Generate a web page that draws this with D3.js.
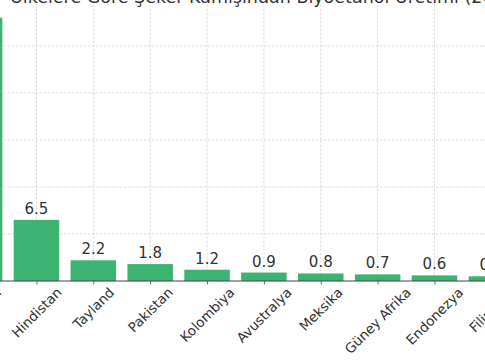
<!DOCTYPE html>
<html>
<head>
<meta charset="utf-8">
<script src="https://cdn.jsdelivr.net/npm/d3@7"></script>
<style>
  html, body { margin: 0; padding: 0; background: #fff; }
  svg { display: block; }
</style>
</head>
<body>
<svg id="chart" width="485" height="360"></svg>
<script>
const categories = ["Brezilya", "Hindistan", "Tayland", "Pakistan", "Kolombiya", "Avustralya", "Meksika", "Güney Afrika", "Endonezya", "Filipinler"];
const values = [28.0, 6.5, 2.2, 1.8, 1.2, 0.9, 0.8, 0.7, 0.6, 0.5];
const yTicks = [5, 10, 15, 20, 25];
const titleText = "Ülkelere Göre Şeker Kamışından Biyoetanol Üretimi (2022)";

const svg = d3.select("#chart");
const W = 485, H = 360;
const baseY = 281, topY = 4.6;
const step = 56.86;
const firstX = -20.4;

const x = d3.scalePoint()
  .domain(categories)
  .range([firstX, firstX + step * (categories.length - 1)]);
const barW = step * 0.8;

const y = d3.scaleLinear().domain([0, 29.4]).range([baseY, topY]);

// grid
const grid = svg.append("g");
grid.selectAll("line.v").data(categories).join("line")
  .attr("x1", d => x(d)).attr("x2", d => x(d))
  .attr("y1", topY).attr("y2", baseY)
  .attr("stroke", "#d4d4d4").attr("stroke-width", 0.8).attr("stroke-dasharray", "2.5,1.5");
grid.selectAll("line.h").data(yTicks).join("line")
  .attr("x1", 0).attr("x2", W)
  .attr("y1", d => y(d)).attr("y2", d => y(d))
  .attr("stroke", "#d4d4d4").attr("stroke-width", 0.8).attr("stroke-dasharray", "2.5,1.5");

// bars
svg.append("g").selectAll("rect").data(categories).join("rect")
  .attr("x", d => x(d) - barW / 2)
  .attr("width", barW)
  .attr("y", (d, i) => y(values[i]))
  .attr("height", (d, i) => baseY - y(values[i]))
  .attr("fill", "#3cb371");

// value labels
svg.append("g").selectAll("text").data(categories).join("text")
  .attr("x", d => x(d))
  .attr("y", (d, i) => y(values[i]) - 6)
  .attr("text-anchor", "middle")
  .attr("font-family", "DejaVu Sans")
  .attr("font-size", 15)
  .attr("fill", "#333")
  .text((d, i) => values[i].toFixed(1));

// x axis
const xAxis = d3.axisBottom(x).tickSize(3.5).tickFormat("");
const ax = svg.append("g").attr("transform", `translate(0,${baseY})`).call(xAxis);
ax.select(".domain").remove();
ax.selectAll(".tick line").attr("stroke", "#444").attr("stroke-width", 0.8);
svg.append("line").attr("x1", 0).attr("x2", W).attr("y1", baseY).attr("y2", baseY)
  .attr("stroke", "#444").attr("stroke-width", 1);

// category labels, rotated 45°, bbox centered under tick
const fs = 13.5;
const lab = svg.append("g");
categories.forEach(c => {
  const t = lab.append("text")
    .attr("font-family", "DejaVu Sans")
    .attr("font-size", fs)
    .attr("fill", "#333")
    .attr("text-anchor", "middle")
    .attr("dominant-baseline", "central")
    .text(c);
  const L = t.node().getComputedTextLength();
  const h = fs * 1.0;
  const bb = (L + h) * Math.SQRT1_2;
  t.attr("transform", `translate(${x(c)},${baseY + 4 + bb / 2}) rotate(-45)`);
});

// title (clipped at top)
svg.append("text")
  .attr("x", 10).attr("y", 3)
  .attr("font-family", "DejaVu Sans")
  .attr("font-size", 17.5)
  .attr("fill", "#333")
  .text(titleText);
</script>
</body>
</html>
